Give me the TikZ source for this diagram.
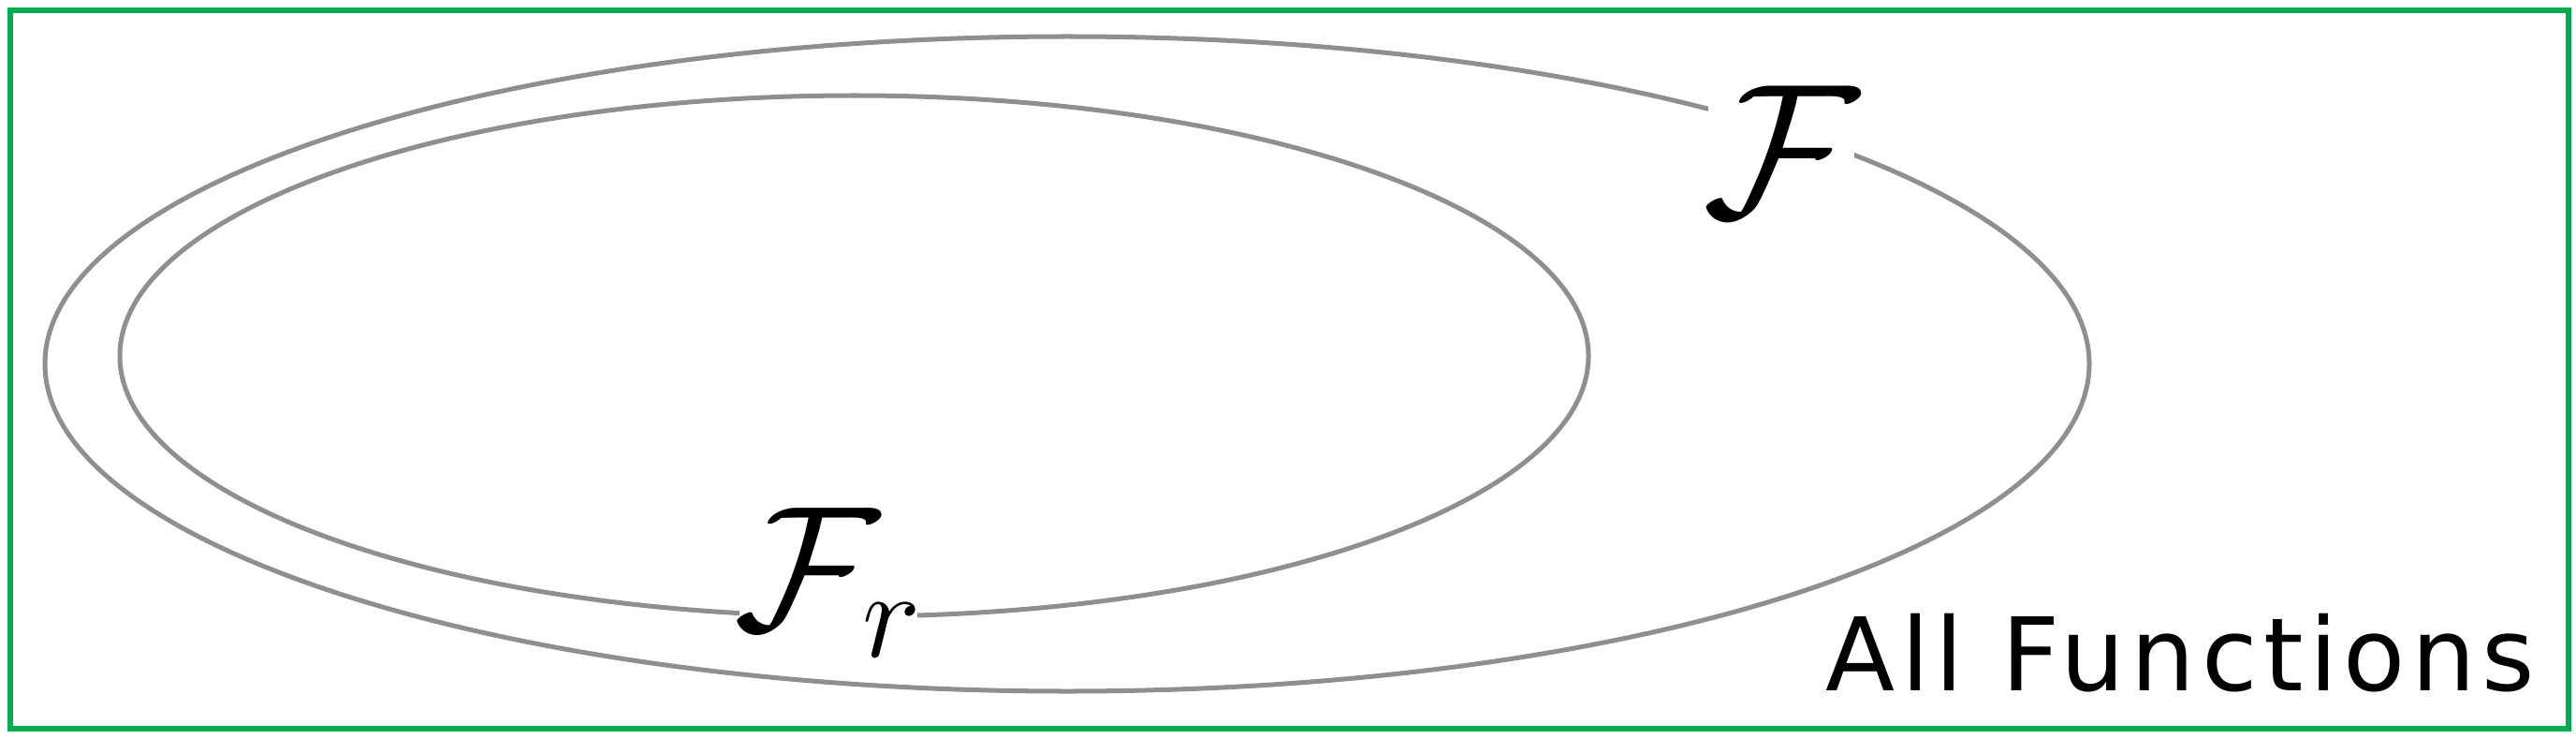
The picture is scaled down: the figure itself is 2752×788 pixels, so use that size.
\documentclass[tikz,border=0pt]{standalone}
\usepackage{fix-cm}
\usepackage{amsmath,amssymb}
\usepackage{fontspec}
\usepackage{xcolor}
\newfontfamily\labelfont[LetterSpace=6]{DejaVu Sans}
\definecolor{boxgreen}{RGB}{0,172,80}
\definecolor{setgray}{RGB}{143,143,143}

\begin{document}
\begin{tikzpicture}[x=0.01cm, y=-0.01cm,
    setline/.style={draw=setgray, line width=0.05cm},
    setlabel/.style={fill=white, inner ysep=0pt, inner xsep=-0.05cm}]
        \useasboundingbox (0,0) rectangle (2752,788);
        \draw[boxgreen, line width=0.06cm] (11,11) rectangle (2744,778);
        % the two sets
        \draw[setline] (1140,388.5) ellipse [x radius=1092, y radius=349.5];
        \draw[setline] (912.5,380) ellipse [x radius=784.5, y radius=278];
        \node[setlabel, font=\fontsize{58}{60}\selectfont] (fall) at (1903,162) {$\mathcal{F}$};
        \node[setlabel, font=\fontsize{54}{58}\selectfont] (fr) at (885,622) {$\mathcal{F}_r$};
        \node[anchor=base west, inner sep=0pt] (all) at (1950,737)
            {\fontsize{30.8}{34}\labelfont All Functions};
\end{tikzpicture}
\end{document}
